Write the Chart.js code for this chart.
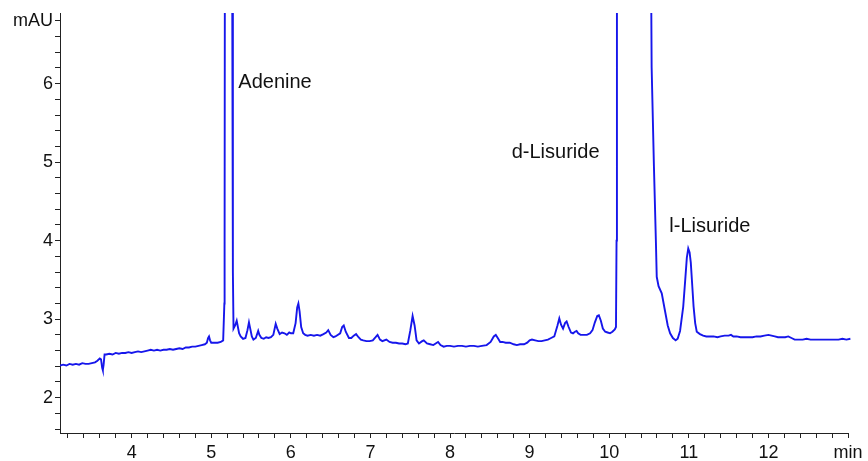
<!DOCTYPE html>
<html>
<head>
<meta charset="utf-8">
<script src="https://cdn.jsdelivr.net/npm/chart.js@4"></script>
<style>
  html, body { margin: 0; padding: 0; background: #fff; }
  #wrap { width: 868px; height: 461px; position: relative; }
</style>
</head>
<body>
<div id="wrap"><canvas id="chrom"></canvas></div>
<script>
// Retention time (min) and detector response (mAU) of the chromatogram trace
const timeMin = [
  3.10, 3.14, 3.18, 3.22, 3.26, 3.30, 3.34, 3.38, 3.42, 3.46, 3.50, 3.54, 3.57, 3.60, 3.615, 3.63, 3.638, 3.648, 3.66, 3.68,
  3.72, 3.76, 3.80, 3.84, 3.88, 3.92, 3.96, 4.00, 4.04, 4.08, 4.12, 4.16, 4.20, 4.24, 4.28, 4.32, 4.36, 4.40, 4.44, 4.48,
  4.52, 4.56, 4.60, 4.64, 4.68, 4.72, 4.76, 4.80, 4.84, 4.88, 4.92, 4.945, 4.96, 4.972, 4.985, 5.00, 5.04, 5.08, 5.12, 5.15,
  5.165, 5.168, 5.22, 5.262, 5.272, 5.28, 5.30, 5.32, 5.335, 5.35, 5.37, 5.40, 5.43, 5.455, 5.474, 5.49, 5.51, 5.53, 5.56, 5.59,
  5.605, 5.63, 5.66, 5.69, 5.72, 5.75, 5.78, 5.81, 5.83, 5.86, 5.89, 5.92, 5.95, 5.98, 6.00, 6.03, 6.06, 6.08, 6.095, 6.11,
  6.13, 6.155, 6.18, 6.21, 6.25, 6.29, 6.33, 6.37, 6.41, 6.445, 6.47, 6.50, 6.535, 6.56, 6.62, 6.645, 6.665, 6.69, 6.73, 6.76,
  6.79, 6.82, 6.85, 6.88, 6.91, 6.95, 6.99, 7.03, 7.065, 7.09, 7.12, 7.15, 7.20, 7.24, 7.28, 7.32, 7.36, 7.40, 7.44, 7.47,
  7.50, 7.53, 7.555, 7.58, 7.61, 7.65, 7.67, 7.71, 7.75, 7.79, 7.82, 7.85, 7.88, 7.92, 7.96, 8.00, 8.05, 8.10, 8.15, 8.20,
  8.25, 8.30, 8.35, 8.40, 8.46, 8.51, 8.55, 8.575, 8.60, 8.63, 8.66, 8.70, 8.75, 8.80, 8.84, 8.88, 8.93, 8.97, 9.00, 9.03,
  9.07, 9.11, 9.15, 9.19, 9.23, 9.27, 9.31, 9.35, 9.373, 9.395, 9.42, 9.445, 9.465, 9.49, 9.52, 9.545, 9.57, 9.59, 9.61, 9.64,
  9.68, 9.72, 9.76, 9.79, 9.82, 9.85, 9.87, 9.895, 9.92, 9.95, 9.98, 10.01, 10.04, 10.07, 10.085, 10.092, 10.097, 10.30, 10.505, 10.533,
  10.562, 10.587, 10.597, 10.62, 10.66, 10.70, 10.735, 10.765, 10.80, 10.835, 10.86, 10.89, 10.93, 10.955, 10.975, 10.993, 11.01, 11.025, 11.045, 11.06,
  11.08, 11.10, 11.14, 11.18, 11.22, 11.26, 11.31, 11.36, 11.40, 11.45, 11.50, 11.53, 11.56, 11.60, 11.65, 11.70, 11.75, 11.80, 11.85, 11.90,
  11.95, 12.00, 12.04, 12.08, 12.12, 12.16, 12.21, 12.25, 12.29, 12.33, 12.38, 12.43, 12.48, 12.53, 12.58, 12.63, 12.68, 12.73, 12.78, 12.83,
  12.88, 12.93, 12.98, 13.03, 13.08, 13.11
];
const absorbanceMAU = [
  2.41, 2.42, 2.41, 2.43, 2.42, 2.43, 2.42, 2.44, 2.43, 2.43, 2.44, 2.45, 2.47, 2.50, 2.49, 2.38, 2.35, 2.42, 2.55, 2.55,
  2.56, 2.55, 2.57, 2.56, 2.57, 2.57, 2.58, 2.57, 2.58, 2.59, 2.58, 2.59, 2.60, 2.61, 2.60, 2.61, 2.60, 2.61, 2.61, 2.62,
  2.61, 2.62, 2.63, 2.62, 2.64, 2.64, 2.65, 2.65, 2.66, 2.67, 2.68, 2.70, 2.76, 2.78, 2.73, 2.70, 2.70, 2.70, 2.71, 2.73,
  3.20, 4.00, 60.0, 8.00, 3.60, 2.88, 2.92, 2.98, 2.90, 2.82, 2.78, 2.75, 2.76, 2.86, 2.96, 2.88, 2.78, 2.74, 2.76, 2.85,
  2.80, 2.76, 2.75, 2.77, 2.76, 2.77, 2.80, 2.94, 2.88, 2.81, 2.83, 2.82, 2.80, 2.83, 2.82, 2.82, 2.95, 3.15, 3.20, 3.10,
  2.90, 2.82, 2.80, 2.79, 2.80, 2.79, 2.80, 2.79, 2.81, 2.83, 2.86, 2.80, 2.77, 2.78, 2.82, 2.90, 2.92, 2.84, 2.76, 2.76,
  2.79, 2.81, 2.77, 2.74, 2.73, 2.72, 2.72, 2.73, 2.77, 2.80, 2.74, 2.72, 2.74, 2.71, 2.70, 2.70, 2.69, 2.69, 2.68, 2.69,
  2.85, 3.04, 2.92, 2.73, 2.69, 2.72, 2.73, 2.69, 2.68, 2.67, 2.69, 2.71, 2.67, 2.65, 2.66, 2.66, 2.65, 2.66, 2.66, 2.65,
  2.66, 2.66, 2.65, 2.66, 2.67, 2.71, 2.78, 2.80, 2.76, 2.71, 2.71, 2.70, 2.70, 2.68, 2.67, 2.68, 2.68, 2.70, 2.73, 2.74,
  2.73, 2.72, 2.72, 2.73, 2.74, 2.76, 2.78, 2.92, 3.01, 2.93, 2.88, 2.95, 2.97, 2.90, 2.83, 2.82, 2.84, 2.85, 2.82, 2.80,
  2.80, 2.80, 2.82, 2.86, 2.96, 3.04, 3.05, 2.98, 2.88, 2.84, 2.83, 2.82, 2.84, 2.87, 2.90, 4.00, 12.0, 90.0, 11.0, 6.21,
  4.94, 3.97, 3.54, 3.42, 3.33, 3.11, 2.92, 2.82, 2.76, 2.73, 2.75, 2.85, 3.16, 3.50, 3.78, 3.90, 3.85, 3.72, 3.40, 3.16,
  2.95, 2.84, 2.81, 2.79, 2.78, 2.78, 2.78, 2.77, 2.78, 2.79, 2.79, 2.80, 2.78, 2.78, 2.77, 2.77, 2.77, 2.77, 2.78, 2.78,
  2.79, 2.80, 2.79, 2.78, 2.77, 2.77, 2.77, 2.78, 2.76, 2.74, 2.74, 2.74, 2.75, 2.74, 2.74, 2.74, 2.74, 2.74, 2.74, 2.74,
  2.74, 2.75, 2.74, 2.75, 2.74, 2.75
];

// Axis ticks: every 0.2 units, labelled on whole numbers
const xTickValues = [
  3.2, 3.4, 3.6, 3.8, 4.0, 4.2, 4.4, 4.6, 4.8, 5.0, 5.2, 5.4, 5.6, 5.8, 6.0, 6.2, 6.4, 6.6, 6.8, 7.0,
  7.2, 7.4, 7.6, 7.8, 8.0, 8.2, 8.4, 8.6, 8.8, 9.0, 9.2, 9.4, 9.6, 9.8, 10.0, 10.2, 10.4, 10.6, 10.8, 11.0,
  11.2, 11.4, 11.6, 11.8, 12.0, 12.2, 12.4, 12.6, 12.8, 13.0
];
const xTickLabels = { 4: '4', 5: '5', 6: '6', 7: '7', 8: '8', 9: '9', 10: '10', 11: '11', 12: '12', 13: 'min' };
const yTickValues = [
  1.6, 1.8, 2.0, 2.2, 2.4, 2.6, 2.8, 3.0, 3.2, 3.4, 3.6, 3.8, 4.0, 4.2, 4.4, 4.6, 4.8, 5.0, 5.2, 5.4,
  5.6, 5.8, 6.0, 6.2, 6.4, 6.6, 6.8
];
const yTickLabels = { 2: '2', 3: '3', 4: '4', 5: '5', 6: '6', 6.8: 'mAU' };

// Peak names and where each name sits (time, mAU of text baseline, left aligned)
const peakNames = ['Adenine', 'd-Lisuride', 'l-Lisuride'];
const peakNameTime = [5.34, 8.775, 10.755];
const peakNameMAU = [5.94, 5.047, 4.112];

const points = timeMin.map((t, i) => ({ x: t, y: absorbanceMAU[i] }));

const FONT = "'Liberation Sans', Arial, Helvetica, sans-serif";

const peakLabelPlugin = {
  id: 'peakLabels',
  afterDatasetsDraw(chart) {
    const { ctx, scales: { x, y } } = chart;
    ctx.save();
    ctx.fillStyle = '#111';
    ctx.font = '20px ' + FONT;
    ctx.textAlign = 'left';
    ctx.textBaseline = 'alphabetic';
    peakNames.forEach((name, i) => {
      ctx.fillText(name, x.getPixelForValue(peakNameTime[i]), y.getPixelForValue(peakNameMAU[i]));
    });
    ctx.restore();
  }
};

const labelFor = (map, v) => {
  const key = Math.round(v * 10) / 10;
  return map[key] !== undefined ? map[key] : '';
};

new Chart(document.getElementById('chrom'), {
  type: 'line',
  data: {
    datasets: [{
      data: points,
      borderColor: 'rgb(22, 22, 235)',
      borderWidth: 1.9,
      pointRadius: 0,
      tension: 0,
      fill: false,
      clip: { left: 0, top: 0, right: 12, bottom: 0 }
    }]
  },
  options: {
    responsive: true,
    maintainAspectRatio: false,
    animation: false,
    events: [],
    layout: { padding: { top: 13, right: 20, left: 0, bottom: 0 } },
    plugins: { legend: { display: false }, tooltip: { enabled: false } },
    scales: {
      x: {
        type: 'linear',
        min: 3.1,
        max: 13.0,
        bounds: 'data',
        afterBuildTicks(scale) { scale.ticks = xTickValues.map(v => ({ value: v })); },
        afterFit(scale) { scale.height = 28; scale.paddingLeft = 0; scale.paddingRight = 0; },
        border: { display: true, color: '#222', width: 1 },
        grid: { display: true, drawOnChartArea: false, drawTicks: true, tickLength: 5, color: '#222', tickColor: '#222', lineWidth: 1 },
        ticks: {
          autoSkip: false, maxRotation: 0, minRotation: 0, padding: 4,
          color: '#111', font: { family: FONT, size: 18 },
          callback: v => labelFor(xTickLabels, v)
        }
      },
      y: {
        type: 'linear',
        min: 1.55,
        max: 6.9,
        bounds: 'data',
        afterBuildTicks(scale) { scale.ticks = yTickValues.map(v => ({ value: v })); },
        afterFit(scale) { scale.width = 60; scale.paddingTop = 0; scale.paddingBottom = 0; },
        border: { display: true, color: '#222', width: 1 },
        grid: { display: true, drawOnChartArea: false, drawTicks: true, tickLength: 5, color: '#222', tickColor: '#222', lineWidth: 1 },
        ticks: {
          autoSkip: false, padding: 2,
          color: '#111', font: { family: FONT, size: 18 },
          callback: v => labelFor(yTickLabels, v)
        }
      }
    }
  },
  plugins: [peakLabelPlugin]
});
</script>
</body>
</html>
